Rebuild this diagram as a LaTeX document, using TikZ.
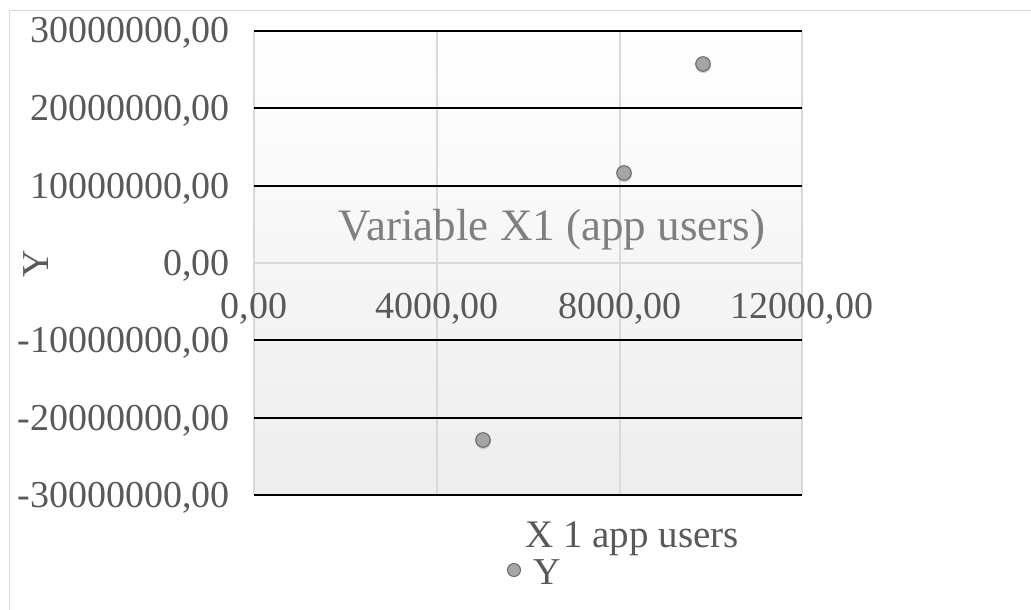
\documentclass[tikz,border=0pt]{standalone}
\usepackage{fontspec}
\setmainfont{Liberation Serif}
\usetikzlibrary{shadows}
\definecolor{ticktext}{HTML}{595959}
\definecolor{titletext}{HTML}{7F7F7F}
\definecolor{gridgrey}{HTML}{D9D9D9}
\definecolor{markerfill}{HTML}{A5A5A5}
\definecolor{markerline}{HTML}{6A6A6A}
\begin{document}
\begin{tikzpicture}[x=1pt,y=-1pt,
  ytick/.style={anchor=base east, inner sep=0pt, text=ticktext, font=\fontsize{38}{40}\selectfont},
  xtick/.style={anchor=base, inner sep=0pt, text=ticktext, font=\fontsize{38}{40}\selectfont},
  axtitle/.style={anchor=base, inner sep=0pt, text=ticktext, font=\fontsize{39}{41}\selectfont},
  charttitle/.style={anchor=base, inner sep=0pt, text=titletext, font=\fontsize{45}{48}\selectfont},
  datapt/.style={circle, minimum size=14.5pt, inner sep=0pt, fill=markerfill, draw=markerline, line width=1.1pt,
                 drop shadow={shadow xshift=0.5pt, shadow yshift=-2pt, opacity=0.3}},
  legpt/.style={circle, minimum size=13pt, inner sep=0pt, fill=markerfill, draw=markerline, line width=1pt},
  hline/.style={draw=black, line width=2.2pt},
  vgrid/.style={draw=gridgrey, line width=1.2pt},
]
\useasboundingbox (0,0) rectangle (1031,610);
\fill[white] (0,0) rectangle (1031,610);

% plot area background
\shade[top color=white, bottom color=black!7] (254,31) rectangle (802,495);

% chart frame
\draw[gridgrey, line width=1pt] (9,625) -- (9,11) -- (1040,11);

% vertical gridlines
\foreach \x in {254,437,620,802} \draw[vgrid] (\x,31) -- (\x,495);
% zero line
\draw[vgrid, line width=1.5pt] (254,263) -- (802,263);
% horizontal value lines
\foreach \y in {31,108,186,340,418,495} \draw[hline] (254,\y) -- (802,\y);

% y tick labels
\node[ytick] (ya) at (230,43)  {30000000,00};
\node[ytick] (yb) at (230,120) {20000000,00};
\node[ytick] (yc) at (230,198) {10000000,00};
\node[ytick] (yd) at (230,275) {0,00};
\node[ytick] (ye) at (230,352) {-10000000,00};
\node[ytick] (yf) at (230,430) {-20000000,00};
\node[ytick] (yg) at (230,507) {-30000000,00};

% x tick labels
\node[xtick] (xa) at (254,318) {0,00};
\node[xtick] (xb) at (437,318) {4000,00};
\node[xtick] (xc) at (620,318) {8000,00};
\node[xtick] (xd) at (802,318) {12000,00};

% titles
\node[charttitle] (title) at (552,240) {Variable X1 (app users)};
\node[axtitle, text depth=0pt] (xtitle) at (632,547) {X 1 app users};
\node[inner sep=0pt, text=ticktext, rotate=90, font=\fontsize{38}{40}\selectfont] (ytitle) at (36,264) {Y};

% data points
\node[datapt] (p1) at (703,64) {};
\node[datapt] (p2) at (624,173) {};
\node[datapt] (p3) at (483,440) {};

% legend
\node[legpt] (lm) at (514,570) {};
\node[anchor=base west, inner sep=0pt, text height=25pt, text depth=0pt, text=ticktext,
      font=\fontsize{38}{40}\selectfont] (ly) at (533,584) {Y};
\end{tikzpicture}
\end{document}
